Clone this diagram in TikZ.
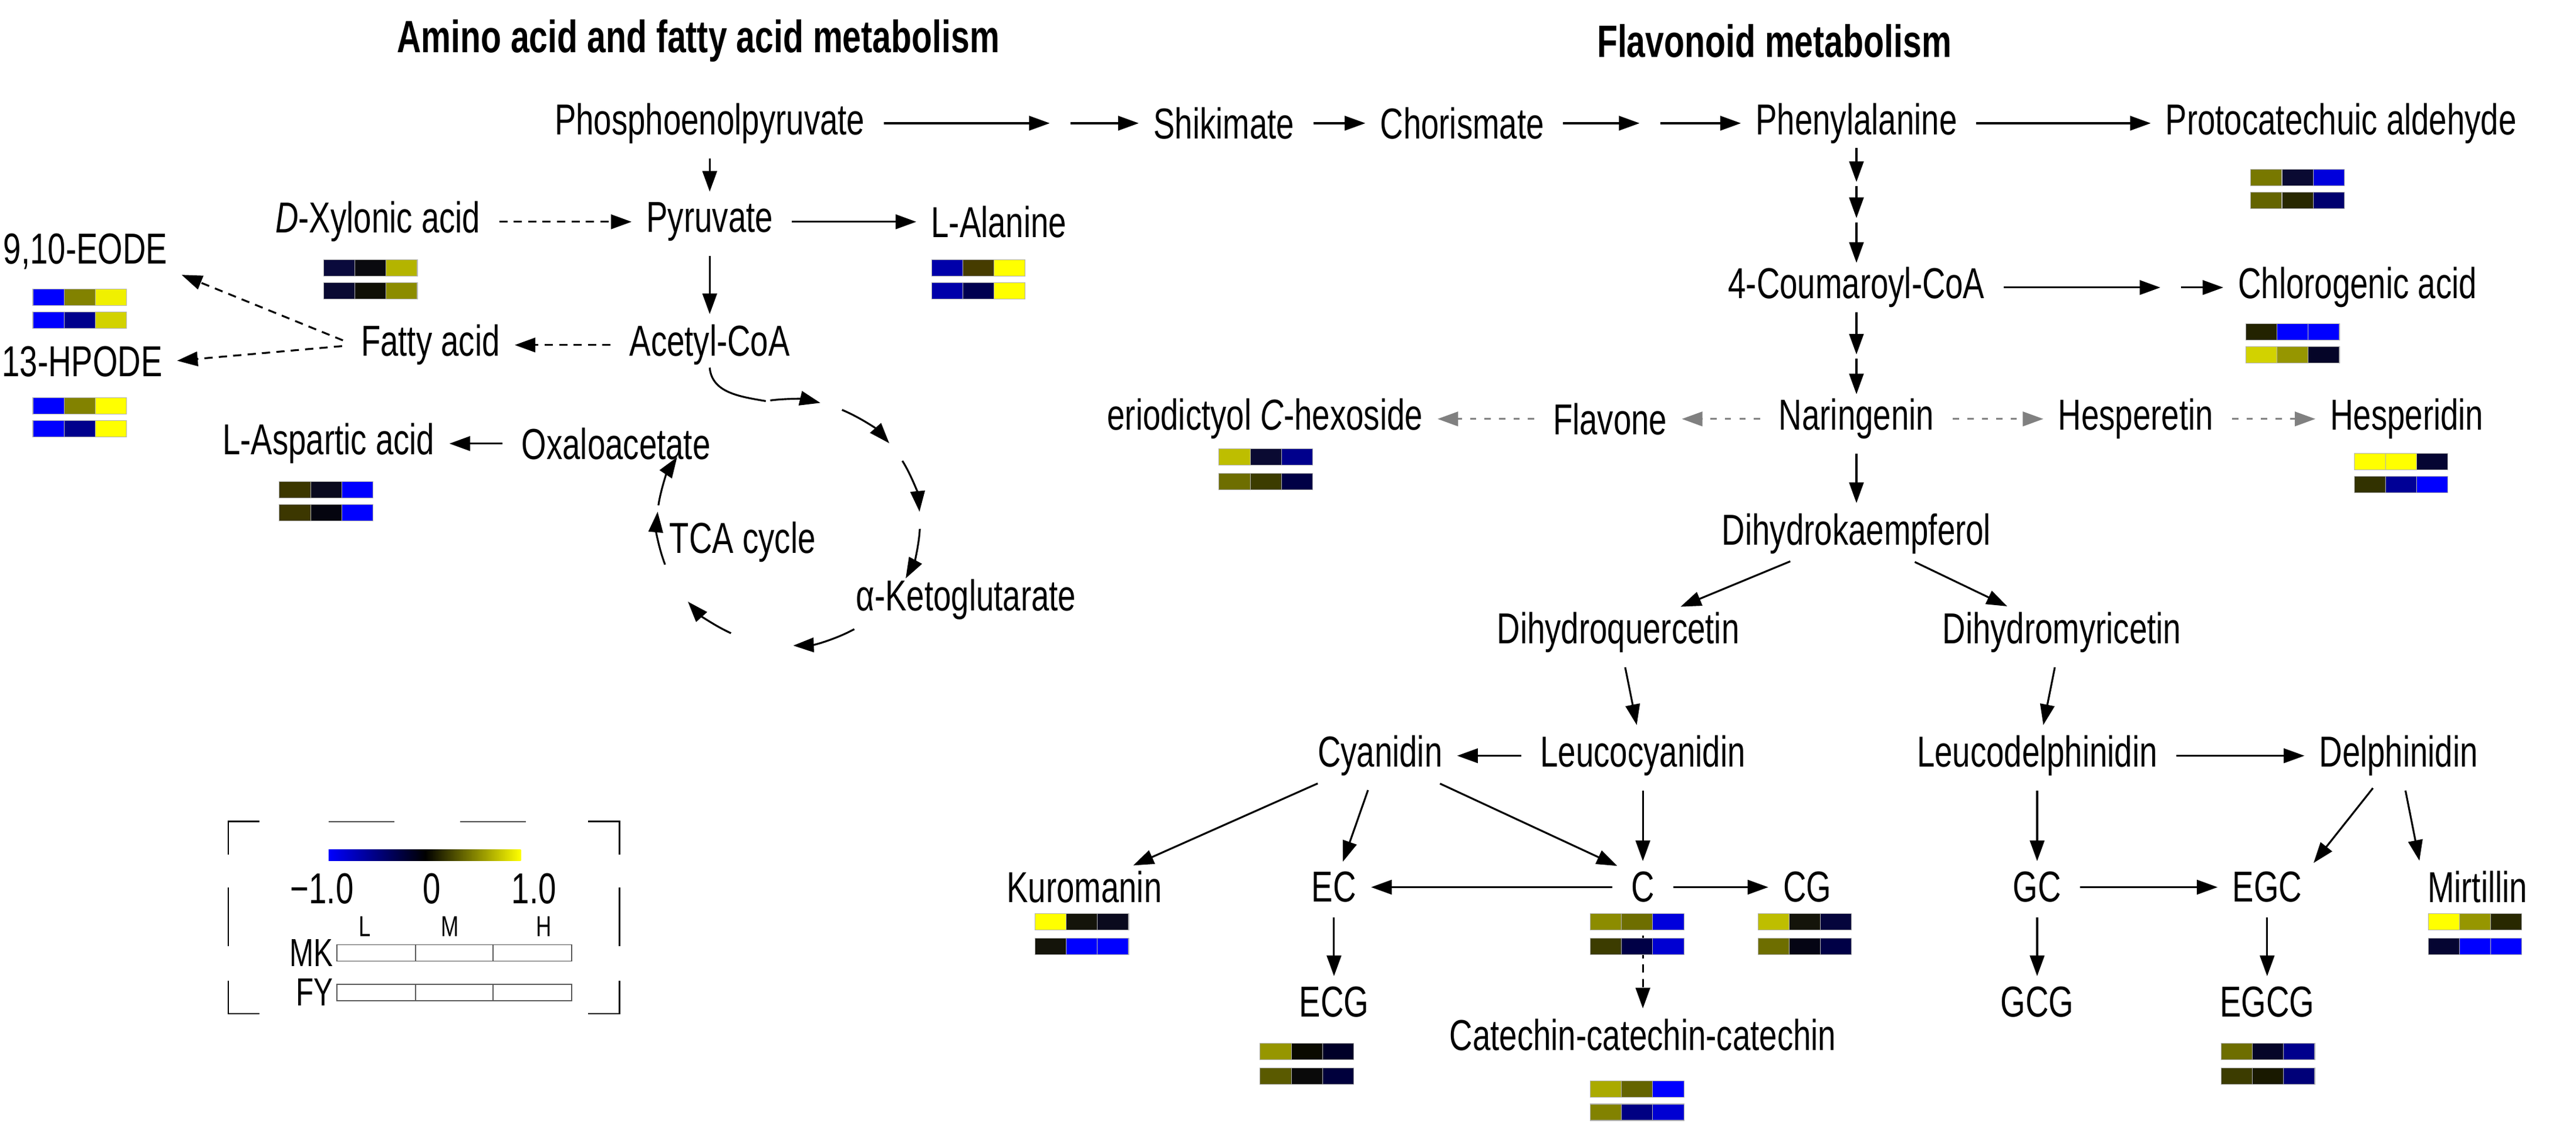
\documentclass[tikz,border=0pt]{standalone}
\usepackage{fontspec}
\setmainfont{Liberation Sans}[FakeStretch=0.74]
\usetikzlibrary{arrows.meta,calc}
\tikzset{
  met/.style={font=\fontsize{21}{23}\selectfont, inner xsep=3pt, inner ysep=1pt},
  ttl/.style={font=\fontsize{22}{24}\selectfont\bfseries},
  arr/.style={-{Triangle[width=7pt,length=10pt]}, line width=0.9pt, shorten >=4pt, shorten <=6pt},
  sarr/.style={arr, shorten <=1pt, shorten >=1pt},
  darr/.style={arr, dash pattern=on 4pt off 3pt},
  garr/.style={arr, draw=gray, dash pattern=on 3pt off 4pt},
  hmcell/.style={draw=gray!60, line width=0.3pt},
}
% one heat-map strip: left x, top y, three RGB colours
\newcommand\hmrow[5]{%
  \definecolor{hmA}{RGB}{#3}\definecolor{hmB}{RGB}{#4}\definecolor{hmC}{RGB}{#5}%
  \filldraw[hmcell, fill=hmA] (#1,#2) rectangle ++(19,10);
  \filldraw[hmcell, fill=hmB] ($(#1,#2)+(19,0)$) rectangle ++(19,10);
  \filldraw[hmcell, fill=hmC] ($(#1,#2)+(38,0)$) rectangle ++(19,10);
}
\begin{document}
\begin{tikzpicture}[x=0.028cm, y=-0.028cm]
\useasboundingbox (0,0) rectangle (1568,684);

\node[ttl] at (425,25) {Amino acid and fatty acid metabolism};
\node[ttl] at (1080,25) {Flavonoid metabolism};

% top row
\node[met] (pep)  at (432,75)  {Phosphoenolpyruvate};
\node[met] (shik) at (745,75)  {Shikimate};
\node[met] (chor) at (890,75)  {Chorismate};
\node[met] (phe)  at (1130,75) {Phenylalanine};
\node[met] (pca)  at (1425,75) {Protocatechuic aldehyde};
\coordinate (m1) at (644,75);
\coordinate (m2) at (1003,75);
\draw[arr] (pep) -- (m1);
\draw[arr] (m1) -- (shik);
\draw[arr] (shik) -- (chor);
\draw[arr] (chor) -- (m2);
\draw[arr] (m2) -- (phe);
\draw[arr] (phe) -- (pca);

% amino acid and fatty acid side
\node[met] (pyr)  at (432,135) {Pyruvate};
\node[met] (xyl)  at (230,135) {\textit{D}-Xylonic acid};
\node[met] (ala)  at (608,135) {L-Alanine};
\node[met] (acoa) at (432,210) {Acetyl-CoA};
\node[met] (fa)   at (262,210) {Fatty acid};
\node[met] (eode) at (52,153)  {9,10-EODE};
\node[met] (hpode) at (50,220) {13-HPODE};
\node[met] (oaa)  at (375,270) {Oxaloacetate};
\node[met] (asp)  at (200,270) {L-Aspartic acid};
\node[met] (tcal) at (452,330) {TCA cycle};
\node[met] (akg)  at (588,365) {α-Ketoglutarate};
\draw[arr] (pep) -- (pyr);
\draw[darr] (xyl) -- (pyr);
\draw[arr] (pyr) -- (ala);
\draw[arr] (pyr) -- (acoa);
\draw[darr] (acoa) -- (fa);
\draw[darr] (fa.west) -- (eode.south east);
\draw[darr] (fa.west) -- (hpode.east);
\draw[arr] (oaa) -- (asp);
\coordinate (tca) at (480,318);
\foreach \a/\b in {98/76, 66/40, 30/5, -3/-27, -60/-88, -116/-140, -160/-185, 172/148}
  \draw[arr, shorten >=0pt, shorten <=0pt] ($(tca)+(\a:2.24cm and 2.1cm)$)
    arc[start angle=\a, end angle=\b, x radius=2.24cm, y radius=2.1cm];
\draw[line width=0.9pt] (acoa.south) to[out=-85,in=170] ($(tca)+(100:2.24cm and 2.1cm)$);

% flavonoid side
\node[met] (cou)  at (1130,175) {4-Coumaroyl-CoA};
\node[met] (chl)  at (1435,175) {Chlorogenic acid};
\node[met] (nar)  at (1130,255) {Naringenin};
\node[met] (flv)  at (980,255)  {Flavone};
\node[met] (eri)  at (770,255)  {eriodictyol \textit{C}-hexoside};
\node[met] (hes)  at (1300,255) {Hesperetin};
\node[met] (hsd)  at (1465,255) {Hesperidin};
\node[met] (dhk)  at (1130,325) {Dihydrokaempferol};
\node[met] (dhq)  at (985,385)  {Dihydroquercetin};
\node[met] (dhm)  at (1255,385) {Dihydromyricetin};
\node[met] (lcy)  at (1000,460) {Leucocyanidin};
\node[met] (cya)  at (840,460)  {Cyanidin};
\node[met] (ldp)  at (1240,460) {Leucodelphinidin};
\node[met] (dlp)  at (1460,460) {Delphinidin};
\node[met] (kur)  at (660,540)  {Kuromanin};
\node[met] (ec)   at (812,540)  {EC};
\node[met] (cat)  at (1000,540) {C};
\node[met] (cg)   at (1100,540) {CG};
\node[met] (gc)   at (1240,540) {GC};
\node[met] (egc)  at (1380,540) {EGC};
\node[met] (mir)  at (1508,540) {Mirtillin};
\node[met] (ecg)  at (812,610)  {ECG};
\node[met] (ccc)  at (1000,630) {Catechin-catechin-catechin};
\node[met] (gcg)  at (1240,610) {GCG};
\node[met] (egcg) at (1380,610) {EGCG};
\coordinate (p1) at (1130,112);
\coordinate (p2) at (1130,134);
\coordinate (c1) at (1130,217);
\coordinate (c2) at (1320,175);
\draw[sarr] (phe) -- (p1);
\draw[sarr] (p1) -- (p2);
\draw[sarr] (p2) -- (cou);
\draw[arr] (cou) -- (c2);
\draw[arr] (c2) -- (chl);
\draw[sarr] (cou) -- (c1);
\draw[sarr] (c1) -- (nar);
\draw[garr] (nar) -- (flv);
\draw[garr] (flv) -- (eri);
\draw[garr] (nar) -- (hes);
\draw[garr] (hes) -- (hsd);
\draw[arr] (nar) -- (dhk);
\draw[arr] (dhk) -- (dhq);
\draw[arr] (dhk) -- (dhm);
\draw[arr] (dhq) -- (lcy);
\draw[arr] (dhm) -- (ldp);
\draw[arr] (lcy) -- (cya);
\draw[arr] (ldp) -- (dlp);
\draw[arr] (cya) -- (kur);
\draw[arr] (cya) -- (ec);
\draw[arr] (cya) -- (cat.north west);
\draw[arr] (lcy) -- (cat);
\draw[arr] (cat) -- (ec);
\draw[arr] (cat) -- (cg);
\draw[arr] (ec) -- (ecg);
\draw[darr] (cat) ++(0,22) coordinate (cd) (cd) -- (ccc);
\draw[arr] (ldp) -- (gc);
\draw[arr] (gc) -- (egc);
\draw[arr] (gc) -- (gcg);
\draw[arr] (egc) -- (egcg);
\draw[arr] (dlp) -- (egc.north east);
\draw[arr] (dlp) -- (mir.north west);

% heat-map strips (MK above, FY below)
\hmrow{197}{158}{10,10,60}{10,10,15}{180,180,0}
\hmrow{197}{172}{10,10,50}{15,15,5}{140,140,0}
\hmrow{567}{158}{0,0,170}{70,60,0}{255,255,0}
\hmrow{567}{172}{0,0,170}{0,0,80}{255,255,0}
\hmrow{20}{176}{0,0,255}{130,130,0}{240,240,0}
\hmrow{20}{190}{0,0,255}{0,0,140}{210,210,0}
\hmrow{20}{242}{0,0,255}{130,130,0}{255,255,0}
\hmrow{20}{256}{0,0,255}{0,0,140}{255,255,0}
\hmrow{170}{293}{60,55,0}{10,10,30}{0,0,255}
\hmrow{170}{307}{60,55,0}{5,5,15}{0,0,255}
\hmrow{1370}{103}{120,120,0}{10,10,50}{0,0,220}
\hmrow{1370}{117}{100,100,0}{40,40,0}{0,0,110}
\hmrow{1367}{197}{35,35,0}{0,0,255}{0,0,255}
\hmrow{1367}{211}{210,210,0}{150,150,0}{5,5,40}
\hmrow{742}{273}{190,190,0}{10,10,50}{0,0,140}
\hmrow{742}{288}{110,110,0}{60,60,0}{0,0,70}
\hmrow{1433}{276}{255,255,0}{255,255,0}{5,5,50}
\hmrow{1433}{290}{50,50,0}{0,0,150}{0,0,255}
\hmrow{630}{556}{255,255,0}{20,20,10}{10,10,30}
\hmrow{630}{571}{20,20,10}{0,0,255}{0,0,255}
\hmrow{968}{556}{140,140,0}{110,110,0}{0,0,220}
\hmrow{968}{571}{60,60,0}{0,0,70}{0,0,210}
\hmrow{1070}{556}{190,190,0}{20,20,10}{5,5,60}
\hmrow{1070}{571}{110,110,0}{5,5,20}{0,0,70}
\hmrow{767}{635}{150,150,0}{10,10,0}{0,0,40}
\hmrow{767}{650}{90,90,0}{10,10,10}{0,0,60}
\hmrow{968}{658}{170,170,0}{100,100,0}{0,0,255}
\hmrow{968}{672}{130,130,0}{0,0,130}{0,0,210}
\hmrow{1352}{635}{110,110,0}{5,5,40}{0,0,140}
\hmrow{1352}{650}{60,60,0}{25,25,0}{0,0,120}
\hmrow{1478}{556}{255,255,0}{150,150,0}{40,40,0}
\hmrow{1478}{571}{5,5,50}{0,0,255}{0,0,255}

% legend
\draw[gray!60!black, line width=0.6pt] (200,500) -- (240,500) (280,500) -- (320,500);
\draw[line width=0.8pt] (139,520) -- (139,500) -- (158,500) (377,520) -- (377,500) -- (358,500)
  (139,597) -- (139,617) -- (158,617) (377,597) -- (377,617) -- (358,617)
  (139,540) -- (139,576) (377,540) -- (377,576);
\shade[left color=blue, right color=black] (200,517) rectangle (259,524);
\shade[left color=black, right color=yellow] (259,517) rectangle (317,524);
\node[met] (lm) at (196,541) {−1.0};
\node[met] (l0) at (263,541) {0};
\node[met] (lp) at (325,541) {1.0};
\node[font=\fontsize{14}{16}\selectfont] (lL) at (222,564) {L};
\node[font=\fontsize{14}{16}\selectfont] (lM) at (274,564) {M};
\node[font=\fontsize{14}{16}\selectfont] (lH) at (331,564) {H};
\node[font=\fontsize{19}{20}\selectfont, inner sep=0pt, anchor=east] (lmk) at (203,580) {MK};
\node[font=\fontsize{19}{20}\selectfont, inner sep=0pt, anchor=east] (lfy) at (203,604) {FY};
\foreach \yy in {575,599} {
  \draw[gray!70!black, line width=0.5pt] (205,\yy) rectangle (348,\yy+10);
  \draw[gray!70!black, line width=0.5pt] (253,\yy) -- (253,\yy+10) (300,\yy) -- (300,\yy+10);
}
\end{tikzpicture}
\end{document}
